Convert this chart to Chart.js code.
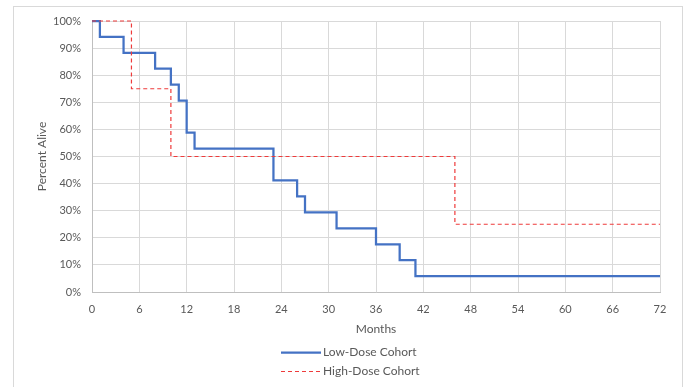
<!DOCTYPE html>
<html>
<head>
<meta charset="utf-8">
<script src="https://cdn.jsdelivr.net/npm/chart.js@4/dist/chart.umd.min.js"></script>
<style>
html,body{margin:0;padding:0;background:#fff;}
canvas{display:block;}
</style>
</head>
<body>
<canvas id="c" width="691" height="387"></canvas>
<script>
// Data
const lowMonths = [0, 1, 4, 8, 10, 11, 12, 13, 23, 26, 27, 31, 36, 39, 41, 72];
const lowAlive  = [100, 94.1, 88.2, 82.4, 76.5, 70.6, 58.8, 52.9, 41.2, 35.3, 29.4, 23.5, 17.6, 11.8, 5.9, 5.9];
const highMonths = [0, 5, 10, 46, 72];
const highAlive  = [100, 75, 50, 25, 25];
const seriesNames = ['Low-Dose Cohort', 'High-Dose Cohort'];
const xTickValues = [0, 6, 12, 18, 24, 30, 36, 42, 48, 54, 60, 66, 72];
const yTickValues = [0, 10, 20, 30, 40, 50, 60, 70, 80, 90, 100];

const FONT = 'Lato, "Open Sans", "Noto Sans", sans-serif';
const TXT = '#595959';

const toPts = (xs, ys) => xs.map((x, i) => ({x: x, y: ys[i]}));

const frame = {
  id: 'frame',
  beforeDraw(chart) {
    const ctx = chart.ctx;
    ctx.save();
    ctx.fillStyle = '#fff';
    ctx.fillRect(0, 0, chart.width, chart.height);
    ctx.strokeStyle = '#d9d9d9';
    ctx.lineWidth = 1;
    ctx.strokeRect(13.5, 6.5, 669, 400);
    ctx.restore();
  }
};

const vLegend = {
  id: 'vLegend',
  afterDraw(chart) {
    const ctx = chart.ctx;
    ctx.save();
    ctx.font = '12px ' + FONT;
    const ds = chart.data.datasets;
    let maxW = 0;
    ds.forEach(d => { maxW = Math.max(maxW, ctx.measureText(d.label).width); });
    const lineLen = 40, gap = 2;
    const total = lineLen + gap + maxW;
    const x0 = Math.round(350 - total / 2);
    const rows = [352, 371];
    ds.forEach((d, i) => {
      const y = rows[i] + 0.5;
      ctx.beginPath();
      ctx.strokeStyle = d.borderColor;
      ctx.lineWidth = d.borderWidth;
      ctx.setLineDash(d.borderDash || []);
      ctx.moveTo(x0, y);
      ctx.lineTo(x0 + lineLen, y);
      ctx.stroke();
      ctx.setLineDash([]);
      ctx.fillStyle = TXT;
      ctx.textBaseline = 'middle';
      ctx.textAlign = 'left';
      ctx.fillText(d.label, x0 + lineLen + gap, rows[i]);
    });
    ctx.restore();
  }
};

new Chart(document.getElementById('c'), {
  type: 'line',
  data: {
    datasets: [
      {
        label: seriesNames[0],
        data: toPts(lowMonths, lowAlive),
        stepped: 'before',
        borderColor: '#4472C4',
        borderWidth: 2.25,
        pointRadius: 0,
        fill: false,
        clip: 4,
        order: 1
      },
      {
        label: seriesNames[1],
        data: toPts(highMonths, highAlive),
        stepped: 'before',
        borderColor: '#EE3B3B',
        borderWidth: 1.2,
        borderDash: [4, 3],
        pointRadius: 0,
        fill: false,
        clip: 4,
        order: 0
      }
    ]
  },
  options: {
    responsive: false,
    animation: false,
    devicePixelRatio: 1,
    layout: { padding: { left: 30, right: 31, top: 21, bottom: 45 } },
    plugins: {
      legend: { display: false },
      tooltip: { enabled: false }
    },
    scales: {
      x: {
        type: 'linear',
        min: 0, max: 72,
        afterBuildTicks(s) { s.ticks = xTickValues.map(v => ({value: v})); },
        afterFit(s) { s.height = 50; },
        grid: { color: '#d9d9d9', drawTicks: false },
        border: { color: '#bfbfbf', width: 1 },
        ticks: { color: TXT, font: { family: FONT, size: 11 }, padding: 11, maxRotation: 0 },
        title: { display: true, text: 'Months', color: TXT, font: { family: FONT, size: 12 }, padding: { top: 4, bottom: 6 } }
      },
      y: {
        min: 0, max: 100,
        afterBuildTicks(s) { s.ticks = yTickValues.map(v => ({value: v})); },
        afterFit(s) { s.width = 62; },
        grid: { color: '#d9d9d9', drawTicks: false },
        border: { color: '#bfbfbf', width: 1 },
        ticks: { color: TXT, font: { family: FONT, size: 11 }, padding: 11, callback: v => v + '%' },
        title: { display: true, text: 'Percent Alive', color: TXT, font: { family: FONT, size: 12 }, padding: { top: 5, bottom: 4 } }
      }
    }
  },
  plugins: [frame, vLegend]
});
</script>
</body>
</html>
